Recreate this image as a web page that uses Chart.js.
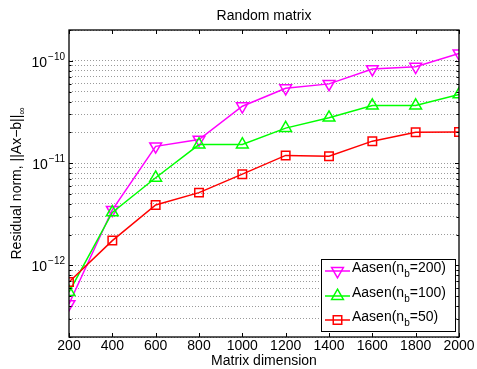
<!DOCTYPE html>
<html>
<head>
<meta charset="utf-8">
<title>Random matrix</title>
<script src="https://cdn.jsdelivr.net/npm/chart.js@4.4.1/dist/chart.umd.min.js"></script>
<style>
    html, body { margin: 0; padding: 0; background: #fff; }
    canvas { display: block; background: #fff; }
</style>
</head>
<body>
<canvas id="residualChart" width="477" height="369"></canvas>
<script>
const matrixSizes = [200, 400, 600, 800, 1000, 1200, 1400, 1600, 1800, 2000];
const blockSizes = [200, 100, 50];
const aasenNb200 = [4.2e-13, 3.5e-12, 1.46e-11, 1.7e-11, 3.6e-11, 5.4e-11, 5.95e-11, 8.3e-11, 8.75e-11, 1.18e-10];
const aasenNb100 = [5.5e-13, 3.3e-12, 7.2e-12, 1.52e-11, 1.52e-11, 2.2e-11, 2.78e-11, 3.65e-11, 3.65e-11, 4.7e-11];
const aasenNb50 = [6.9e-13, 1.75e-12, 3.9e-12, 5.15e-12, 7.8e-12, 1.19e-11, 1.17e-11, 1.64e-11, 2.0e-11, 2.02e-11];
const yDecadeTicks = [1e-12, 1e-11, 1e-10];
const yRange = [2e-13, 2e-10];
const xRange = [200, 2000];
const xTickStep = 200;

const fontFamily = '"Liberation Sans", Arial, Helvetica, sans-serif';
const mainFont = `14px ${fontFamily}`;
const smallFont = `10px ${fontFamily}`;

function toPoints(values) {
    return matrixSizes.map((size, i) => ({ x: size, y: values[i] }));
}

function isDecade(value) {
    return yDecadeTicks.some((tick) => Math.abs(Math.log10(tick) - Math.log10(value)) < 1e-6);
}

function drawMarker(ctx, style, x, y, r, rotation) {
    ctx.beginPath();
    if (style === 'rect') {
        const half = r * Math.SQRT1_2;
        ctx.rect(x - half, y - half, half * 2, half * 2);
    } else {
        let rad = rotation * Math.PI / 180;
        for (let k = 0; k < 3; k++) {
            const px = x + Math.sin(rad) * r;
            const py = y - Math.cos(rad) * r;
            if (k === 0) ctx.moveTo(px, py); else ctx.lineTo(px, py);
            rad += 2 * Math.PI / 3;
        }
        ctx.closePath();
    }
    ctx.stroke();
}

// text with a sub- or superscript piece, drawn left to right from x
function drawScriptText(ctx, parts, x, y) {
    parts.forEach((part) => {
        ctx.font = part.small ? smallFont : mainFont;
        ctx.fillText(part.text, x, y + (part.shift || 0));
        x += ctx.measureText(part.text).width;
    });
    return x;
}

function measureScriptText(ctx, parts) {
    return parts.reduce((sum, part) => {
        ctx.font = part.small ? smallFont : mainFont;
        return sum + ctx.measureText(part.text).width;
    }, 0);
}

const matlabAxes = {
    id: 'matlabAxes',
    afterDraw(chart) {
        const { ctx, chartArea: area } = chart;
        const xScale = chart.scales.x;
        const yScale = chart.scales.y;

        ctx.save();
        ctx.fillStyle = '#000';
        ctx.strokeStyle = '#000';

        // frame
        ctx.lineWidth = 1.3;
        ctx.strokeRect(area.left, area.top, area.right - area.left, area.bottom - area.top);

        // inward tick marks
        ctx.lineWidth = 1;
        ctx.beginPath();
        xScale.ticks.forEach((tick) => {
            const px = Math.round(xScale.getPixelForValue(tick.value)) + 0.5;
            ctx.moveTo(px, area.bottom);
            ctx.lineTo(px, area.bottom - 4);
            ctx.moveTo(px, area.top);
            ctx.lineTo(px, area.top + 4);
        });
        yScale.ticks.forEach((tick) => {
            const py = Math.round(yScale.getPixelForValue(tick.value)) + 0.5;
            const len = isDecade(tick.value) ? 4 : 2.5;
            ctx.moveTo(area.left, py);
            ctx.lineTo(area.left + len, py);
            ctx.moveTo(area.right, py);
            ctx.lineTo(area.right - len, py);
        });
        ctx.stroke();

        // x tick labels
        ctx.font = mainFont;
        ctx.textAlign = 'center';
        ctx.textBaseline = 'alphabetic';
        xScale.ticks.forEach((tick) => {
            ctx.fillText(String(tick.value), xScale.getPixelForValue(tick.value), 350);
        });

        // y tick labels, 10 with a superscript exponent
        yScale.ticks.filter((tick) => isDecade(tick.value)).forEach((tick) => {
            const py = yScale.getPixelForValue(tick.value);
            const exponent = Math.round(Math.log10(tick.value));
            ctx.textAlign = 'right';
            ctx.font = smallFont;
            const sup = '\u2212' + Math.abs(exponent);
            ctx.fillText(sup, area.left - 4, py - 1);
            const supWidth = ctx.measureText(sup).width;
            ctx.font = mainFont;
            ctx.fillText('10', area.left - 4 - supWidth - 1, py + 6);
        });

        // title and axis labels
        ctx.textAlign = 'center';
        ctx.font = mainFont;
        const midX = (area.left + area.right) / 2;
        ctx.fillText('Random matrix', midX, 20);
        ctx.fillText('Matrix dimension', midX, 365);

        const yTitle = [
            { text: 'Residual norm, ||Ax\u2212b||' },
            { text: '\u221e', small: true, shift: 4 },
        ];
        ctx.save();
        ctx.translate(21, (area.top + area.bottom) / 2);
        ctx.rotate(-Math.PI / 2);
        ctx.textAlign = 'left';
        drawScriptText(ctx, yTitle, -measureScriptText(ctx, yTitle) / 2, 0);
        ctx.restore();

        // legend
        const box = { left: 321, top: 259, right: 456, bottom: 332 };
        ctx.fillStyle = '#fff';
        ctx.fillRect(box.left, box.top, box.right - box.left, box.bottom - box.top);
        ctx.lineWidth = 1;
        ctx.strokeStyle = '#000';
        ctx.strokeRect(box.left + 0.5, box.top + 0.5, box.right - box.left - 1, box.bottom - box.top - 1);

        const rowY = [271, 296, 320];
        chart.data.datasets.forEach((ds, i) => {
            const y = rowY[i];
            ctx.strokeStyle = ds.borderColor;
            ctx.lineWidth = ds.borderWidth;
            ctx.beginPath();
            ctx.moveTo(325, y);
            ctx.lineTo(350, y);
            ctx.stroke();
            drawMarker(ctx, ds.pointStyle, 337.5, y, ds.pointRadius, ds.pointRotation || 0);

            ctx.fillStyle = '#000';
            ctx.textAlign = 'left';
            drawScriptText(ctx, [
                { text: 'Aasen(n' },
                { text: 'b', small: true, shift: 5 },
                { text: `=${blockSizes[i]})` },
            ], 352, y + 1);
        });

        ctx.restore();
    },
};

new Chart(document.getElementById('residualChart'), {
    type: 'line',
    data: {
        datasets: [
            {
                label: `Aasen(n_b=${blockSizes[0]})`,
                data: toPoints(aasenNb200),
                borderColor: '#ff00ff',
                pointStyle: 'triangle',
                pointRotation: 180,
                pointRadius: 6.8,
                order: 2,
            },
            {
                label: `Aasen(n_b=${blockSizes[1]})`,
                data: toPoints(aasenNb100),
                borderColor: '#00ff00',
                pointStyle: 'triangle',
                pointRadius: 6.8,
                order: 1,
            },
            {
                label: `Aasen(n_b=${blockSizes[2]})`,
                data: toPoints(aasenNb50),
                borderColor: '#ff0000',
                pointStyle: 'rect',
                pointRadius: 6,
                order: 0,
            },
        ].map((ds) => ({
            ...ds,
            borderWidth: 1.5,
            tension: 0,
            fill: false,
            pointBorderColor: ds.borderColor,
            pointBackgroundColor: 'rgba(0,0,0,0)',
            pointBorderWidth: 1.5,
            pointHoverRadius: ds.pointRadius,
        })),
    },
    options: {
        responsive: false,
        animation: false,
        devicePixelRatio: 1,
        layout: {
            padding: { left: 69, right: 18, top: 30, bottom: 32 },
        },
        plugins: {
            legend: { display: false },
            tooltip: { enabled: false },
        },
        scales: {
            x: {
                type: 'linear',
                min: xRange[0],
                max: xRange[1],
                ticks: { display: false, stepSize: xTickStep },
                grid: { display: false, drawTicks: false },
                border: { display: false },
                afterFit: (scale) => { scale.height = 0; },
            },
            y: {
                type: 'logarithmic',
                min: yRange[0],
                max: yRange[1],
                ticks: { display: false },
                grid: { color: '#9a9a9a', lineWidth: 1, drawTicks: false },
                border: { display: false, dash: [1, 2] },
                afterFit: (scale) => { scale.width = 0; },
                afterBuildTicks: (scale) => {
                    const ticks = [];
                    const lo = Math.floor(Math.log10(yRange[0]));
                    const hi = Math.ceil(Math.log10(yRange[1]));
                    for (let e = lo; e <= hi; e++) {
                        for (let m = 1; m <= 9; m++) {
                            const value = m * Math.pow(10, e);
                            if (value >= yRange[0] * 0.999 && value <= yRange[1] * 1.001) {
                                ticks.push({ value });
                            }
                        }
                    }
                    scale.ticks = ticks;
                },
            },
        },
    },
    plugins: [matlabAxes],
});
</script>
</body>
</html>
